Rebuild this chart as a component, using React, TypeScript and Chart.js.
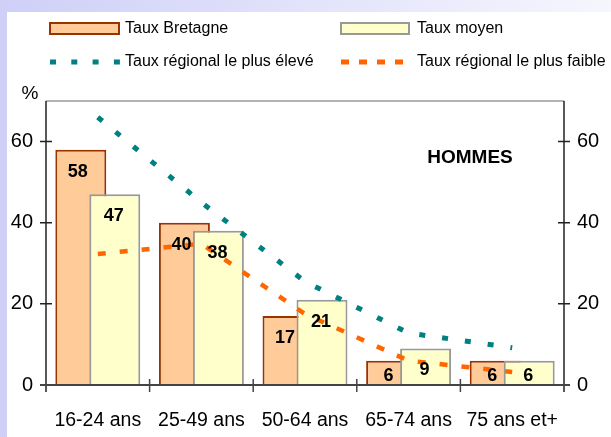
import React, { useEffect, useRef } from "react";
import { Chart, registerables } from "chart.js";

Chart.register(...registerables);

const categories = ["16-24 ans", "25-49 ans", "50-64 ans", "65-74 ans", "75 ans et+"];
const tauxBretagne = [58, 40, 17, 6, 6];
const tauxMoyen = [47, 38, 21, 9, 6];
const tauxEleve = [66, 45, 25.5, 12.8, 9.2];
const tauxFaible = [32.3, 34.8, 17.5, 6, 3.2];
const yTicks = [0, 20, 40, 60];
const yMax = 70;

const FONT = "'Liberation Sans', Arial, sans-serif";
const C_BRET = "#FFCC99";
const C_BRET_B = "#993300";
const C_MOY = "#FFFFCC";
const C_MOY_B = "#999999";
const C_TEAL = "#008080";
const C_ORANGE = "#FF6600";

let drawingMoyen = false;

const axesPlugin = {
  id: "customAxes",
  beforeDatasetDraw(chart: any, args: any) {
    if (args.index === 1 && !drawingMoyen) return false;
    return true;
  },
  afterDatasetDraw(chart: any, args: any) {
    if (args.index === 0) {
      drawingMoyen = true;
      chart.getDatasetMeta(1).controller.draw();
      drawingMoyen = false;
    }
  },
  beforeDatasetsDraw(chart: any) {
    const { ctx, chartArea } = chart;
    const { left, right, top, bottom } = chartArea;
    const y = chart.scales.y;
    ctx.save();
    ctx.strokeStyle = "#9a9a9a";
    ctx.lineWidth = 1.5;
    ctx.beginPath();
    ctx.moveTo(left, top);
    ctx.lineTo(right, top);
    ctx.stroke();
    ctx.strokeStyle = "#222";
    ctx.lineWidth = 1.5;
    ctx.beginPath();
    ctx.moveTo(left, top);
    ctx.lineTo(left, bottom + 7);
    ctx.moveTo(right, top);
    ctx.lineTo(right, bottom + 7);
    yTicks.forEach((v) => {
      const py = y.getPixelForValue(v);
      ctx.moveTo(left - 6, py);
      ctx.lineTo(left + 6, py);
      ctx.moveTo(right - 6, py);
      ctx.lineTo(right + 6, py);
    });
    ctx.stroke();
    const w = (right - left) / categories.length;
    ctx.strokeStyle = "#444";
    ctx.beginPath();
    for (let i = 1; i < categories.length; i++) {
      const px = left + i * w;
      ctx.moveTo(px, bottom - 6);
      ctx.lineTo(px, bottom + 7);
    }
    ctx.stroke();
    ctx.restore();
  },
  afterDatasetsDraw(chart: any) {
    const { ctx, chartArea } = chart;
    const { left, right, bottom } = chartArea;
    ctx.save();
    ctx.strokeStyle = "#444";
    ctx.lineWidth = 2;
    ctx.beginPath();
    ctx.moveTo(left - 6, bottom);
    ctx.lineTo(right + 6, bottom);
    ctx.stroke();
    ctx.fillStyle = "#000";
    ctx.font = `bold 18px ${FONT}`;
    ctx.textAlign = "center";
    ctx.textBaseline = "middle";
    const barSets = [
      { idx: 0, vals: tauxBretagne, dx: -3 },
      { idx: 1, vals: tauxMoyen, dx: -1 },
    ];
    barSets.forEach((s) => {
      const meta = chart.getDatasetMeta(s.idx);
      meta.data.forEach((el: any, i: number) => {
        const cy = Math.min(el.y + 22, bottom - 9);
        ctx.fillText(String(s.vals[i]), el.x + s.dx, cy);
      });
    });
    ctx.font = `bold 19px ${FONT}`;
    ctx.fillText("HOMMES", 470, 158);
    ctx.font = `19px ${FONT}`;
    ctx.fillText("%", 30, 94);
    ctx.restore();
  },
  afterDraw(chart: any) {
    const { ctx } = chart;
    ctx.save();
    ctx.font = `16px ${FONT}`;
    ctx.textBaseline = "middle";
    ctx.textAlign = "left";
    ctx.lineWidth = 2;
    ctx.fillStyle = C_BRET;
    ctx.fillRect(50, 23, 69, 11);
    ctx.strokeStyle = C_BRET_B;
    ctx.strokeRect(50, 23, 69, 11);
    ctx.fillStyle = C_MOY;
    ctx.fillRect(341, 23, 68, 11);
    ctx.strokeStyle = C_MOY_B;
    ctx.strokeRect(341, 23, 68, 11);
    ctx.fillStyle = "#000";
    ctx.fillText("Taux Bretagne", 125, 29);
    ctx.fillText("Taux moyen", 417, 29);
    ctx.lineWidth = 5;
    ctx.strokeStyle = C_TEAL;
    ctx.setLineDash([6, 15.3]);
    ctx.beginPath();
    ctx.moveTo(50, 62);
    ctx.lineTo(121, 62);
    ctx.stroke();
    ctx.strokeStyle = C_ORANGE;
    ctx.setLineDash([8, 10]);
    ctx.beginPath();
    ctx.moveTo(341, 62);
    ctx.lineTo(411, 62);
    ctx.stroke();
    ctx.setLineDash([]);
    ctx.fillText("Taux régional le plus élevé", 125, 62);
    ctx.fillText("Taux régional le plus faible", 417, 62);
    ctx.restore();
  },
};

export default function App() {
  const ref = useRef<HTMLCanvasElement | null>(null);
  useEffect(() => {
    if (!ref.current) return;
    Chart.defaults.font.family = FONT;
    const filterTicks = (scale: any) => {
      scale.ticks = scale.ticks.filter((t: any) => yTicks.includes(t.value));
    };
    const chart = new Chart(ref.current, {
      type: "bar",
      data: {
        labels: categories,
        datasets: [
          {
            type: "bar",
            label: "Taux Bretagne",
            data: tauxBretagne,
            backgroundColor: C_BRET,
            borderColor: C_BRET_B,
            borderWidth: 2,
            categoryPercentage: 0.656,
            barPercentage: 1.5,
            order: 2,
          },
          {
            type: "bar",
            label: "Taux moyen",
            data: tauxMoyen,
            backgroundColor: C_MOY,
            borderColor: C_MOY_B,
            borderWidth: 2,
            categoryPercentage: 0.656,
            barPercentage: 1.5,
            order: 3,
          },
          {
            type: "line",
            label: "Taux régional le plus élevé",
            data: tauxEleve,
            borderColor: C_TEAL,
            borderWidth: 5,
            borderDash: [6, 17],
            borderCapStyle: "butt",
            pointRadius: 0,
            tension: 0,
            fill: false,
            order: 1,
          },
          {
            type: "line",
            label: "Taux régional le plus faible",
            data: tauxFaible,
            borderColor: C_ORANGE,
            borderWidth: 4.5,
            borderDash: [8, 14],
            borderCapStyle: "butt",
            pointRadius: 0,
            tension: 0,
            fill: false,
            order: 0,
          },
        ] as any,
      },
      options: {
        animation: false,
        responsive: false,
        maintainAspectRatio: false,
        layout: { padding: { top: 101, left: 0, right: 0, bottom: 0 } },
        plugins: { legend: { display: false }, tooltip: { enabled: false } },
        scales: {
          x: {
            offset: true,
            grid: { display: false },
            border: { display: false },
            ticks: { color: "#000", font: { size: 19.5 }, padding: 16, maxRotation: 0, autoSkip: false },
            afterFit: (s: any) => { s.height = 52; },
          },
          y: {
            position: "left",
            min: 0,
            max: yMax,
            grid: { display: false },
            border: { display: false },
            ticks: { stepSize: 20, color: "#000", font: { size: 20 }, padding: 5 },
            afterBuildTicks: filterTicks,
            afterFit: (s: any) => { s.width = 46; },
          },
          y2: {
            position: "right",
            min: 0,
            max: yMax,
            grid: { display: false },
            border: { display: false },
            ticks: { stepSize: 20, color: "#000", font: { size: 20 }, padding: 5 },
            afterBuildTicks: filterTicks,
            afterFit: (s: any) => { s.width = 47; },
          },
        },
      } as any,
      plugins: [axesPlugin],
    });
    return () => chart.destroy();
  }, []);

  return (
    <div
      style={{
        position: "fixed",
        left: 0,
        top: 0,
        width: 611,
        height: 437,
        background: "linear-gradient(to right, #cfcff8, #f6f6fe)",
        overflow: "hidden",
      }}
    >
      <div style={{ position: "absolute", left: 7, top: 12, right: 0, bottom: 0, background: "#fff" }} />
      <canvas ref={ref} width={611} height={437} style={{ position: "absolute", left: 0, top: 0, width: 611, height: 437 }} />
    </div>
  );
}
